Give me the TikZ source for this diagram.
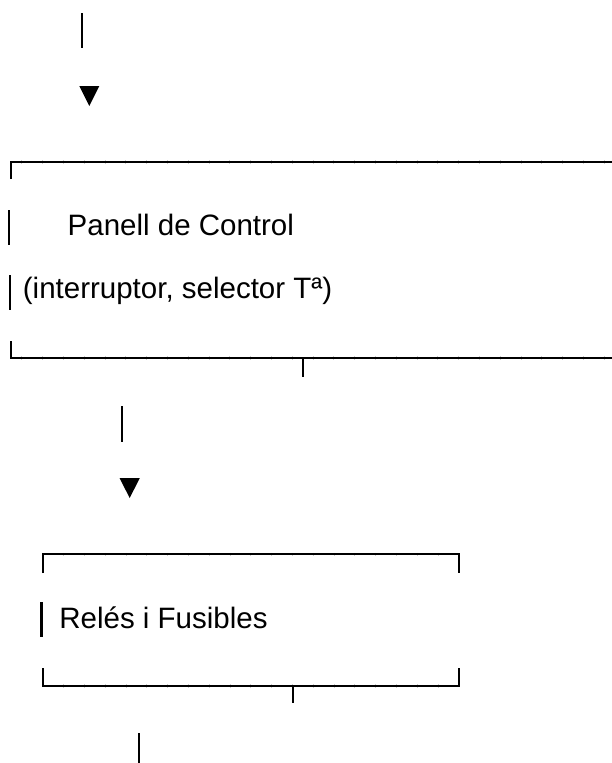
\documentclass[tikz,border=0pt]{standalone}
\usepackage{fontspec}
\setmainfont{Liberation Sans}
\begin{document}
\begin{tikzpicture}[x=1pt,y=-1pt,
  txt/.style={inner sep=0pt,outer sep=0pt,anchor=base west,font=\fontsize{29.5}{32}\selectfont},
  bar/.style={line width=2.2pt},
  rule/.style={line width=2pt},
  seam/.style={line width=0.7pt,gray!40},
  tri/.style={fill=black}]
\useasboundingbox (0,0) rectangle (612,763);
% ---- top incoming connector
\coordinate (a1) at (81.7,13);
\coordinate (a2) at (81.7,48);
\draw[bar] (a1) -- (a2);
\fill[tri] (79.3,86) -- (99.3,86) -- (89.3,106) -- cycle;
% ---- box 1 : Panell de Control
\foreach \k in {1,...,29} {
  \draw[seam] ({0.9+20.8*\k},160) -- ({0.9+20.8*\k},163.5);
  \draw[seam] ({0.9+20.8*\k},356.3) -- ({0.9+20.8*\k},359.8);
}
\coordinate (b1tl) at (11,179);
\coordinate (b1tc) at (11,161.7);
\coordinate (b1tr) at (612,161.7);
\draw[rule] (b1tl) -- (b1tc) -- (b1tr);
\coordinate (b1bl) at (11,341);
\coordinate (b1bc) at (11,358);
\coordinate (b1br) at (612,358);
\draw[rule] (b1bl) -- (b1bc) -- (b1br);
\draw[bar] (9.3,210) -- (9.3,245);
\draw[bar] (10,275) -- (10,310);
\node[txt] (panell) at (67.7,235) {Panell de Control};
\node[txt] (interr) at (22.9,298) {(interruptor, selector Tª)};
\coordinate (b1o1) at (302.5,358);
\coordinate (b1o2) at (302.5,377);
\draw[rule] (b1o1) -- (b1o2);
% ---- connector to box 2
\coordinate (c1) at (122.3,406);
\coordinate (c2) at (122.3,442);
\draw[bar] (c1) -- (c2);
\fill[tri] (119.5,478) -- (139.8,478) -- (129.7,498) -- cycle;
% ---- box 2 : Relés i Fusibles
\foreach \k in {1,...,19} {
  \draw[seam] ({42.8+20.8*\k},552.6) -- ({42.8+20.8*\k},556.1);
  \draw[seam] ({42.8+20.8*\k},684.3) -- ({42.8+20.8*\k},687.8);
}
\coordinate (b2tl) at (42.8,573);
\coordinate (b2tc) at (42.8,554.3);
\coordinate (b2trc) at (459,554.3);
\coordinate (b2tr) at (459,573);
\draw[rule] (b2tl) -- (b2tc) -- (b2trc) -- (b2tr);
\coordinate (b2bl) at (42.8,668);
\coordinate (b2bc) at (42.8,686);
\coordinate (b2brc) at (459,686);
\coordinate (b2br) at (459,668);
\draw[rule] (b2bl) -- (b2bc) -- (b2brc) -- (b2br);
\draw[bar] (41.5,602) -- (41.5,637);
\node[txt] (reles) at (59.4,628.3) {Relés i Fusibles};
\coordinate (b2o1) at (293,686);
\coordinate (b2o2) at (293,703);
\draw[rule] (b2o1) -- (b2o2);
% ---- outgoing connector
\coordinate (d1) at (138.9,733);
\coordinate (d2) at (138.9,763);
\draw[bar] (d1) -- (d2);
\end{tikzpicture}
\end{document}
